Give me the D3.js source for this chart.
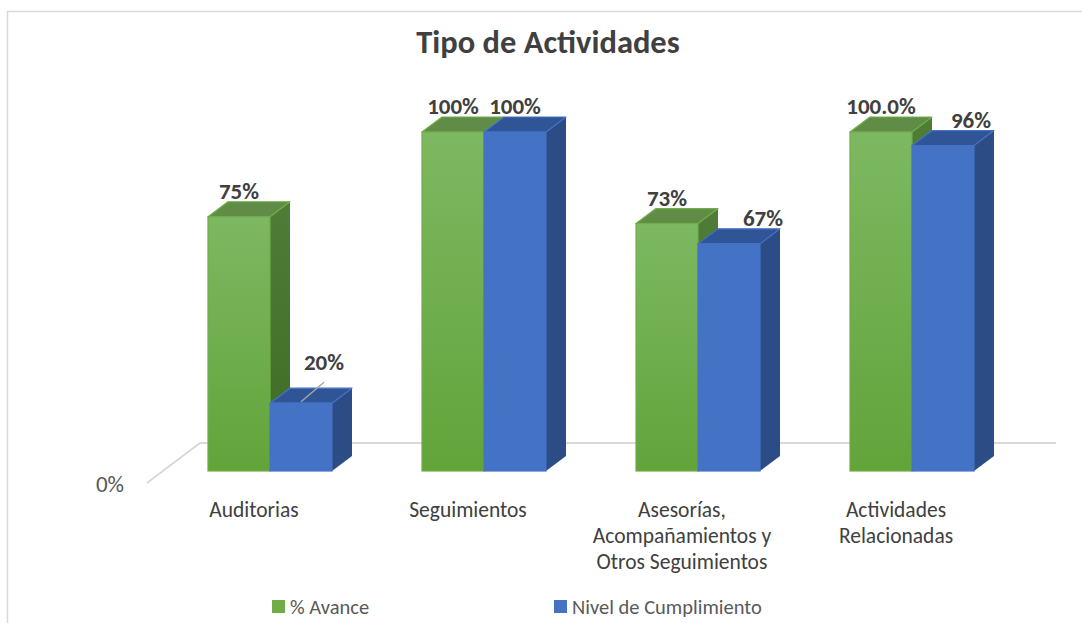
<!DOCTYPE html>
<html>
<head>
<meta charset="utf-8">
<script src="https://cdn.jsdelivr.net/npm/d3@7"></script>
<style>
  html, body { margin: 0; padding: 0; background: #ffffff; }
  svg { display: block; }
</style>
</head>
<body>
<svg id="chart" width="1082" height="623"></svg>
<script>
// ---- data ----
const categories = [
  ["Auditorias"],
  ["Seguimientos"],
  ["Asesorías,", "Acompañamientos y", "Otros Seguimientos"],
  ["Actividades", "Relacionadas"]
];
const categoryKeys = ["Auditorias", "Seguimientos", "Asesorias", "Actividades"];
const seriesNames = ["% Avance", "Nivel de Cumplimiento"];
const avance = [0.75, 1.00, 0.73, 1.00];
const cumplimiento = [0.20, 1.00, 0.67, 0.96];
const avanceLabels = ["75%", "100%", "73%", "100.0%"];
const cumplimientoLabels = ["20%", "100%", "67%", "96%"];
const yTickLabels = ["0%"];
const title = "Tipo de Actividades";

// ---- layout ----
const W = 1082, H = 623;
const svg = d3.select("#chart");
const font = "Carlito, Lato, 'Liberation Sans', sans-serif";

const y = d3.scaleLinear().domain([0, 1]).range([471, 132]);
const xc = d3.scalePoint().domain(categoryKeys).range([270, 912]);
const xs = d3.scaleBand().domain(seriesNames).range([-62, 62]);
const DX = 20, DY = -15;

const defs = svg.append("defs");
const gG = defs.append("linearGradient").attr("id", "gFront").attr("x1", 0).attr("y1", 0).attr("x2", 0).attr("y2", 1);
gG.append("stop").attr("offset", "0%").attr("stop-color", "#7db862");
gG.append("stop").attr("offset", "100%").attr("stop-color", "#62a43a");
const gS = defs.append("linearGradient").attr("id", "gSide").attr("x1", 0).attr("y1", 0).attr("x2", 0).attr("y2", 1);
gS.append("stop").attr("offset", "0%").attr("stop-color", "#4f7d37");
gS.append("stop").attr("offset", "100%").attr("stop-color", "#3e6b24");

// chart border
svg.append("rect").attr("x", 7.5).attr("y", 11.5).attr("width", W + 20).attr("height", H + 20)
  .attr("fill", "none").attr("stroke", "#d9d9d9").attr("stroke-width", 1.5);

// title
svg.append("text").attr("x", 548).attr("y", 53).attr("text-anchor", "middle")
  .attr("font-family", font).attr("font-weight", "bold").attr("font-size", 32.5)
  .attr("fill", "#404040").text(title);

// floor lines
const floorBack = y(0) - 28, floorFront = y(0) + 12;
svg.append("path")
  .attr("d", `M147,${floorFront} L200,${floorBack} L1056,${floorBack}`)
  .attr("fill", "none").attr("stroke", "#d9d9d9").attr("stroke-width", 2);

// y tick label
svg.append("g").selectAll("text").data(yTickLabels).join("text")
  .attr("x", 124).attr("y", floorFront + 9).attr("text-anchor", "end")
  .attr("font-family", font).attr("font-size", 23).attr("fill", "#595959")
  .text(d => d);

// bars
const series = [
  { name: seriesNames[0], values: avance, labels: avanceLabels, front: "url(#gFront)", side: "url(#gSide)", top: "#608c48", stroke: "#70ad47" },
  { name: seriesNames[1], values: cumplimiento, labels: cumplimientoLabels, front: "#4472c4", side: "#2c4c86", top: "#2f5597", stroke: "#4472c4" }
];

const barsG = svg.append("g");
series.forEach((s, si) => {
  categoryKeys.forEach((k, i) => {
    const x0 = xc(k) + xs(s.name);
    const w = xs.bandwidth();
    const yt = y(s.values[i]), yb = y(0);
    const g = barsG.append("g");
    g.append("path")
      .attr("d", `M${x0 + w},${yt} L${x0 + w + DX},${yt + DY} L${x0 + w + DX},${yb + DY} L${x0 + w},${yb} Z`)
      .attr("fill", s.side);
    g.append("path")
      .attr("d", `M${x0},${yt} L${x0 + DX},${yt + DY} L${x0 + w + DX},${yt + DY} L${x0 + w},${yt} Z`)
      .attr("fill", s.top).attr("stroke", s.stroke).attr("stroke-width", 1.2).attr("stroke-linejoin", "round");
    g.append("rect").attr("x", x0).attr("y", yt).attr("width", w).attr("height", yb - yt)
      .attr("fill", s.front).attr("stroke", s.stroke).attr("stroke-width", 1.2);
  });
});

// data labels
const labelG = svg.append("g").attr("font-family", font).attr("font-weight", "bold")
  .attr("font-size", 23).attr("fill", "#404040").attr("text-anchor", "middle");
const nudge = { "Auditorias": [23, -15], "Asesorias": [34, 0], "Actividades": [28, 0] };
series.forEach((s, si) => {
  categoryKeys.forEach((k, i) => {
    const x0 = xc(k) + xs(s.name);
    const w = xs.bandwidth();
    const yt = y(s.values[i]);
    let cx = x0 + w / 2, by = yt + DY - 3;
    if (si === 1 && nudge[k]) { cx += nudge[k][0]; by += nudge[k][1]; }
    labelG.append("text").attr("x", cx).attr("y", by).text(s.labels[i]);
    if (si === 1 && k === "Auditorias") {
      svg.append("line").attr("x1", cx).attr("y1", by + 12).attr("x2", x0 + w / 2).attr("y2", yt - 1.5)
        .attr("stroke", "#a6a6a6").attr("stroke-width", 1.5);
    }
  });
});

// category labels
const catG = svg.append("g").attr("font-family", font).attr("font-size", 21.5)
  .attr("fill", "#404040").attr("text-anchor", "middle");
categoryKeys.forEach((k, i) => {
  const t = catG.append("text").attr("x", xc(k) - 16).attr("y", 517);
  categories[i].forEach((line, li) => {
    t.append("tspan").attr("x", xc(k) - 16).attr("dy", li === 0 ? 0 : 26).text(line);
  });
});

// legend
const legendX = [272, 554];
const lg = svg.append("g").attr("font-family", font).attr("font-size", 20.5).attr("fill", "#595959");
seriesNames.forEach((n, i) => {
  lg.append("rect").attr("x", legendX[i]).attr("y", 600).attr("width", 13).attr("height", 13)
    .attr("fill", i === 0 ? "#70ad47" : "#4472c4");
  lg.append("text").attr("x", legendX[i] + 18).attr("y", 614).text(n);
});
</script>
</body>
</html>
